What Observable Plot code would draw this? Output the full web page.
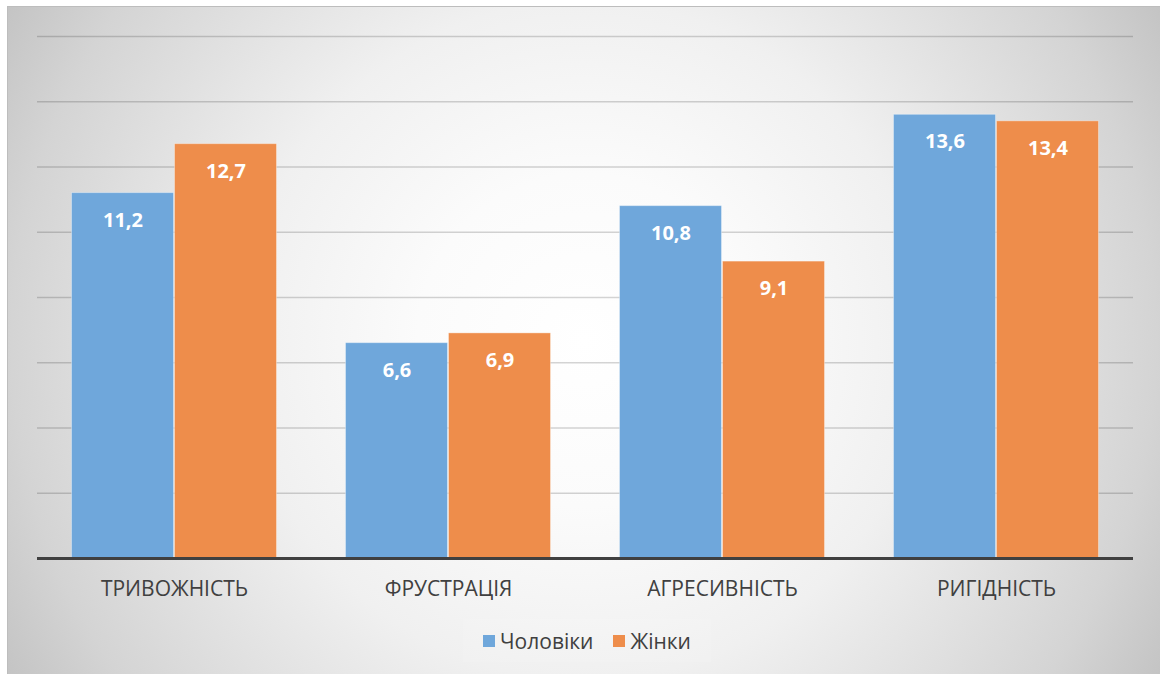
<!DOCTYPE html>
<html>
<head>
<meta charset="utf-8">
<script src="https://cdn.jsdelivr.net/npm/d3@7"></script>
<script src="https://cdn.jsdelivr.net/npm/@observablehq/plot@0.6"></script>
<style>
  html, body { margin: 0; padding: 0; background: #ffffff; width: 1160px; height: 674px; overflow: hidden; }
  #chart {
    position: absolute; left: 7px; top: 6px; width: 1153px; height: 668px;
    background: radial-gradient(circle farthest-corner at 50% 50%, #ffffff 0%, #fbfbfb 25%, #f0f0f0 51%, #d4d4d4 86%, #c4c4c4 100%);
    border-top: 1px solid #bdbdbd; border-left: 1px solid #bdbdbd; box-sizing: border-box;
    font-family: "Open Sans", "Noto Sans", sans-serif;
  }
  .layer { position: absolute; left: -1px; top: 0px; }
  #legend {
    position: absolute; left: 455px; top: 612px; width: 248px; height: 43px;
    background: rgba(255,255,255,0.12);
    display: flex; align-items: center; justify-content: center; gap: 20px;
    font-size: 21px; color: #404040;
  }
  .item { display: flex; align-items: center; gap: 5px; }
  .sw { width: 12px; height: 12px; box-sizing: border-box; }
</style>
</head>
<body>
<div id="chart">
  <div id="grid" class="layer"></div>
  <div id="bars" class="layer"></div>
  <div id="base" class="layer"></div>
  <div id="legend"></div>
</div>
<script>
const categories = ["ТРИВОЖНІСТЬ", "ФРУСТРАЦІЯ", "АГРЕСИВНІСТЬ", "РИГІДНІСТЬ"];
const seriesNames = ["Чоловіки", "Жінки"];
const men = [11.2, 6.6, 10.8, 13.6];
const women = [12.7, 6.9, 9.1, 13.4];
const colors = ["#6FA7DB", "#EE8D4B"];
const yTicks = [0, 2, 4, 6, 8, 10, 12, 14, 16];

const data = [];
categories.forEach((c, i) => {
  data.push({category: c, series: seriesNames[0], value: men[i]});
  data.push({category: c, series: seriesNames[1], value: women[i]});
});
const fmt = v => v.toFixed(1).replace(".", ",");

const common = {
  width: 1153,
  height: 600,
  marginLeft: 30,
  marginRight: 27,
  marginTop: 29,
  marginBottom: 49,
  style: {background: "transparent", fontFamily: "'Open Sans', 'Noto Sans', sans-serif"},
  y: {domain: [0, 16], axis: null}
};

// background gridlines (continuous across groups)
document.getElementById("grid").appendChild(Plot.plot({
  ...common,
  marks: [
    Plot.ruleY(yTicks.filter(d => d > 0), {stroke: "#000000", strokeOpacity: 0.17, strokeWidth: 1.3})
  ]
}));

// grouped bars
document.getElementById("bars").appendChild(Plot.plot({
  ...common,
  fx: {domain: categories, paddingInner: 0.248, paddingOuter: 0.124, label: null},
  x: {domain: seriesNames, padding: 0, axis: null},
  color: {domain: seriesNames, range: colors},
  marks: [
    Plot.barY(data, {fx: "category", x: "series", y: "value", fill: "series", insetLeft: 0.5, insetRight: 0.5, stroke: "#ffffff", strokeOpacity: 0.35, strokeWidth: 1}),
    Plot.text(data, {fx: "category", x: "series", y: "value", text: d => fmt(d.value), dy: 27, fill: "#ffffff", fontWeight: "bold", fontSize: 20}),
    Plot.axisFx({anchor: "bottom", tickSize: 0, tickPadding: 23, fontSize: 21, color: "#404040", label: null})
  ]
}));

// baseline on top
document.getElementById("base").appendChild(Plot.plot({
  ...common,
  marks: [
    Plot.ruleY([0], {stroke: "#404040", strokeWidth: 3})
  ]
}));

const legend = document.getElementById("legend");
seriesNames.forEach((s, i) => {
  const it = document.createElement("div");
  it.className = "item";
  const sw = document.createElement("div");
  sw.className = "sw";
  sw.style.background = colors[i];
  const t = document.createElement("span");
  t.textContent = s;
  it.appendChild(sw); it.appendChild(t);
  legend.appendChild(it);
});
</script>
</body>
</html>
